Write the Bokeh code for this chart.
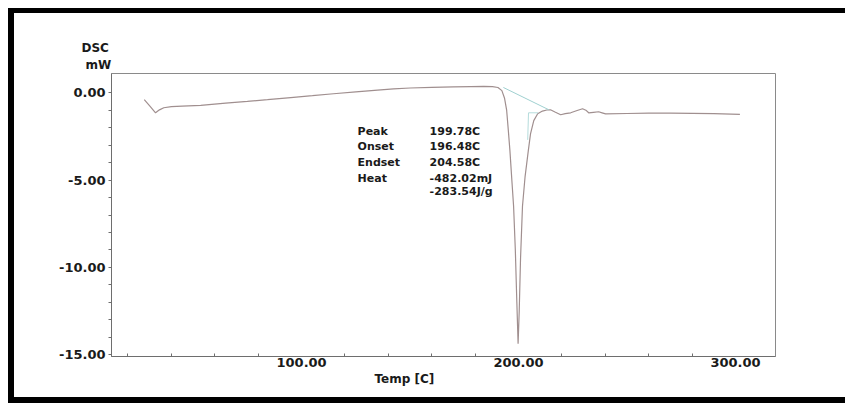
from bokeh.plotting import figure
from bokeh.models import FixedTicker, PrintfTickFormatter, Title, Range1d, ColumnDataSource
from bokeh.embed import file_html
from bokeh.resources import INLINE
from bokeh.core.properties import value

# DSC scan: temperature (C) and heat flow (mW)
temp = [27.5, 30.0, 32.7, 34.5, 36.5, 40.0, 45.0, 53.5, 65.0, 75.0, 84.3, 95.0,
        105.0, 114.7, 125.0, 135.0, 142.4, 150.0, 160.0, 170.0, 178.0, 184.0,
        188.0, 190.5, 192.3, 193.5, 194.5, 195.3, 196.0, 197.0, 197.7, 198.5,
        199.2, 199.78, 200.3, 200.9, 201.8, 203.0, 204.5, 205.5, 207.0, 208.8,
        211.0, 213.0, 214.7, 217.0, 219.4, 221.5, 224.0, 227.0, 229.5, 231.0,
        232.3, 234.5, 236.9, 238.5, 240.1, 250.0, 260.0, 270.0, 280.0, 290.0,
        302.0]
dsc = [-0.40, -0.75, -1.15, -0.98, -0.86, -0.80, -0.77, -0.72, -0.60, -0.50,
       -0.40, -0.28, -0.17, -0.06, 0.05, 0.15, 0.22, 0.27, 0.31, 0.33, 0.35,
       0.36, 0.35, 0.30, 0.12, -0.30, -1.00, -2.20, -3.30, -5.20, -6.50, -9.00,
       -12.00, -14.37, -12.50, -9.50, -6.50, -4.80, -3.30, -2.36, -1.60, -1.20,
       -1.05, -0.99, -0.98, -1.12, -1.26, -1.20, -1.15, -1.02, -0.92, -1.00,
       -1.15, -1.12, -1.09, -1.15, -1.21, -1.19, -1.17, -1.17, -1.18, -1.20,
       -1.24]

# integration baseline and endset construction
base_t = [193.0, 214.0]
base_v = [0.30, -0.98]
endset_t = [209.0, 204.58, 204.2]
endset_v = [-1.15, -1.15, -2.70]

# peak analysis results
res_names = ["Peak", "Onset", "Endset", "Heat", ""]
res_values = ["199.78C", "196.48C", "204.58C", "-482.02mJ", "-283.54J/g"]
res_v = [-2.24, -3.10, -3.97, -4.89, -5.63]
name_t = 125.8
value_t = 159.0

x_major = [100, 200, 300]
x_minor = [20, 40, 60, 80, 120, 140, 160, 180, 220, 240, 260, 280]
y_major = [-15, -10, -5, 0]
y_minor = list(range(-15, 1))

FONT = "DejaVu Sans"
INK = "#1a1a1a"
AXIS = "#6e6e6e"

p = figure(width=831, height=384,
           x_range=Range1d(12.4, 318.4), y_range=Range1d(-15.1, 1.1),
           output_backend="svg", toolbar_location=None,
           min_border_left=97, min_border_top=60,
           min_border_right=70, min_border_bottom=41)
# heavy black frame on the left, top and bottom of the chart
p.styles = {"margin-left": "14px", "margin-top": "13px", "overflow": "hidden",
            "background-color": "white",
            "box-shadow": ("-6px 0 0 0 black, 0 -5px 0 0 black, 0 6px 0 0 black, "
                           "-6px -5px 0 0 black, -6px 6px 0 0 black")}

p.xgrid.visible = False
p.ygrid.visible = False
p.outline_line_color = "#8a8a8a"
p.outline_line_width = 1
p.background_fill_color = "white"
p.border_fill_color = "white"

p.xaxis.ticker = FixedTicker(ticks=x_major, minor_ticks=x_minor)
p.yaxis.ticker = FixedTicker(ticks=y_major, minor_ticks=y_minor)
for ax in (p.xaxis, p.yaxis):
    ax.formatter = PrintfTickFormatter(format="%.2f")
    ax.axis_line_color = AXIS
    ax.axis_line_width = 1
    ax.major_tick_line_color = AXIS
    ax.minor_tick_line_color = AXIS
    ax.major_label_text_font = FONT
    ax.major_label_text_font_style = "bold"
    ax.major_label_text_font_size = "13px"
    ax.major_label_text_color = INK

p.yaxis.major_tick_out = 0
p.yaxis.major_tick_in = 0
p.yaxis.minor_tick_out = 3
p.yaxis.minor_tick_in = 0
p.yaxis.major_label_standoff = 3

p.xaxis.major_tick_out = 0
p.xaxis.major_tick_in = 0
p.xaxis.minor_tick_out = 0
p.xaxis.minor_tick_in = 3
p.xaxis.major_label_standoff = 1

# thermogram
p.line(temp, dsc, line_color="#a08f8f", line_width=1.2)
p.line(base_t, base_v, line_color="#9fd0d0", line_width=1)
p.line(endset_t, endset_v, line_color="#b5dcdc", line_width=1)

src = ColumnDataSource(dict(nt=[name_t] * len(res_v), vt=[value_t] * len(res_v),
                            v=res_v, names=res_names, values=res_values))
p.text(x="nt", y="v", text="names", source=src, text_font=value(FONT),
       text_font_style="bold", text_font_size="11px", text_color=INK,
       text_baseline="middle", text_align="left")
p.text(x="vt", y="v", text="values", source=src, text_font=value(FONT),
       text_font_style="bold", text_font_size="11px", text_color=INK,
       text_baseline="middle", text_align="left")

# axis titles: unit label above the y axis, temperature label under the x axis
def axis_title(text, offset, standoff=0):
    return Title(text=text, align="left", offset=offset, standoff=standoff,
                 text_font=FONT, text_font_style="bold", text_font_size="12px",
                 text_color=INK)

p.add_layout(axis_title("mW", -26, 3), "above")
p.add_layout(axis_title("DSC", -30), "above")
p.add_layout(axis_title("Temp [C]", 263), "below")

open("out.html", "w").write(file_html(p, INLINE))
